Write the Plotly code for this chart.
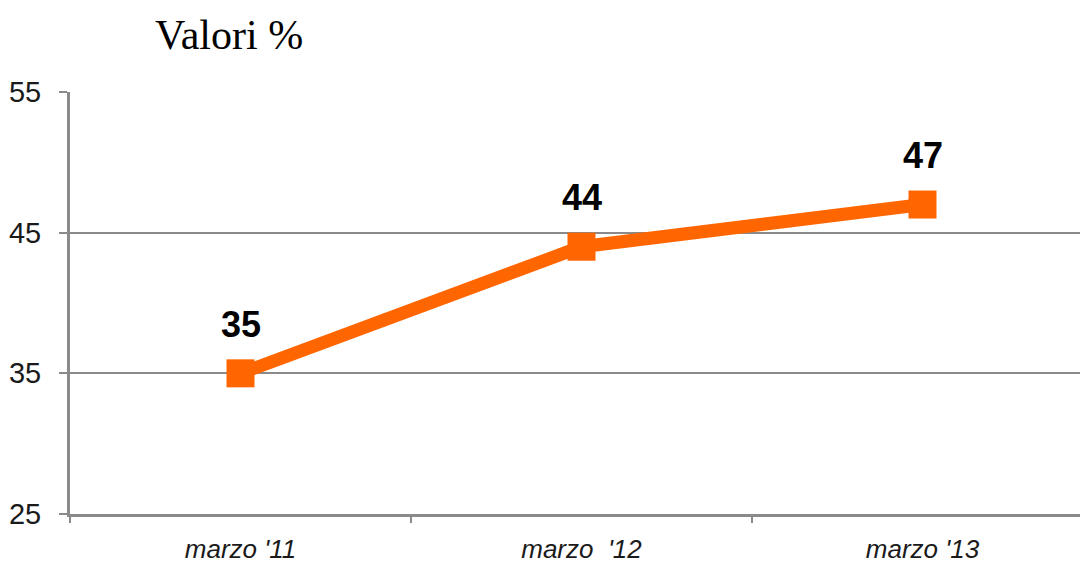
import plotly.graph_objects as go

categories = ["marzo '11", "marzo  '12", "marzo '13"]
values = [35, 44, 47]
y_ticks = [25, 35, 45, 55]

W, H = 1080, 564
L, R, T, B = 70, 0, 92, 48

xs = list(range(len(categories)))

fig = go.Figure()
fig.add_trace(go.Scatter(
    x=xs, y=values, mode="lines+markers",
    line=dict(color="#FF6600", width=13),
    marker=dict(symbol="square", size=28, color="#FF6600"),
    showlegend=False, hoverinfo="skip",
))

for x, v in zip(xs, values):
    fig.add_annotation(x=x, y=v, text=f"<b>{v}</b>", showarrow=False,
                       yshift=49, font=dict(family="Liberation Sans, Arial", size=36, color="#000"))

fig.add_annotation(xref="paper", yref="paper", x=(153 - L) / (W - L - R), y=1 + (92 - 35) / (H - T - B),
                   xanchor="left", yanchor="middle", text="Valori %", showarrow=False,
                   font=dict(family="Liberation Serif, Times New Roman", size=42, color="#000"))

fig.update_layout(
    width=W, height=H, margin=dict(l=L, r=R, t=T, b=B),
    plot_bgcolor="white", paper_bgcolor="white",
    xaxis=dict(
        range=[-0.5, -0.5 + (W - L - R) / 341.0],
        tickmode="array", tickvals=xs, ticktext=[f"<i>{c}</i>" for c in categories],
        ticks="", showgrid=False,
        showline=True, linecolor="#8a8a8a", linewidth=3,
        tickfont=dict(family="Liberation Sans, Arial", size=26, color="#1a1a1a"),
        minor=dict(tickmode="array", tickvals=[-0.5, 0.5, 1.5, 2.5], ticks="outside",
                   ticklen=6, tickwidth=2, tickcolor="#8a8a8a", showgrid=False),
        ticklabelstandoff=10,
        zeroline=False,
    ),
    yaxis=dict(
        range=[25, 55], tickmode="array", tickvals=y_ticks,
        ticks="outside", ticklen=8, tickwidth=2, tickcolor="#8a8a8a",
        showgrid=True, gridcolor="#8a8a8a", gridwidth=2,
        showline=True, linecolor="#8a8a8a", linewidth=3,
        tickfont=dict(family="Liberation Sans, Arial", size=29, color="#1a1a1a"),
        ticklabelstandoff=12, zeroline=False,
    ),
)

fig.write_html("out.html")
